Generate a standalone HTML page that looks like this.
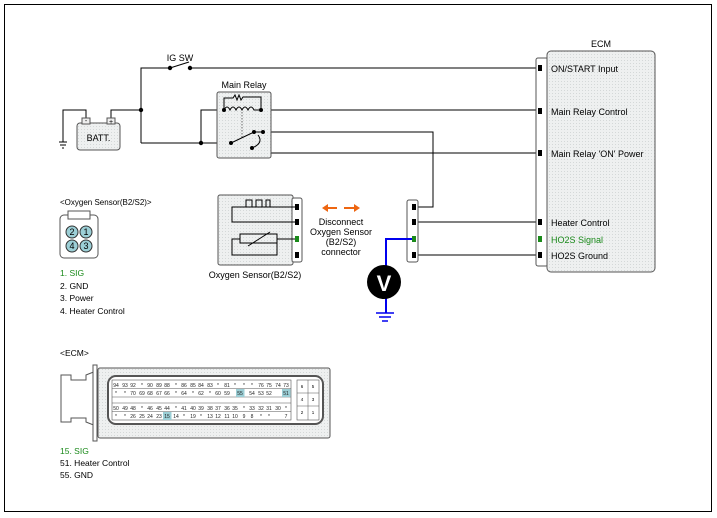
<!DOCTYPE html>
<html><head><meta charset="utf-8"><style>
html,body{margin:0;padding:0;background:#fff}
svg{display:block;font-family:"Liberation Sans",sans-serif}
</style></head><body>
<svg width="717" height="518" viewBox="0 0 717 518" xmlns="http://www.w3.org/2000/svg">
<defs>
<pattern id="dot" width="3" height="3" patternUnits="userSpaceOnUse"><rect width="3" height="3" fill="#eef0f0"/><rect width="1" height="1" fill="#d4d8d8"/></pattern>
</defs>
<rect x="4.5" y="4.5" width="707" height="507" fill="#fff" stroke="#000"/>
<g stroke="#000" fill="none" stroke-width="1">
<!-- top wire -->
<path d="M141 143V68H170M190 68H537"/>
<line x1="170" y1="68" x2="189" y2="62"/>
<!-- battery -->
<path d="M111 123V110H141M86 123V110H63V142"/>
<path d="M59 142h8M60 145h6M62 148h2"/>
<path d="M141 143H231M201 143V110H224"/>
<!-- relay lines -->
<path d="M261 110H537M263 132H433V207H414M267 132V153H537"/>
<path d="M414 222H537M414 255H537"/>
</g>
<circle cx="170" cy="68" r="2.2"/><circle cx="190" cy="68" r="2.2"/>
<circle cx="141" cy="110" r="2.2"/><circle cx="201" cy="143" r="2.2"/>
<text x="180" y="61" font-size="9" text-anchor="middle">IG SW</text>
<rect x="77" y="123" width="43" height="27" rx="3" fill="url(#dot)" stroke="#555"/>
<rect x="82" y="118" width="8" height="6" fill="#eee" stroke="#555"/><rect x="107" y="118" width="8" height="6" fill="#eee" stroke="#555"/>
<text x="86" y="123" font-size="7" text-anchor="middle">-</text><text x="111" y="124" font-size="7" text-anchor="middle">+</text>
<text x="98.5" y="141" font-size="9" text-anchor="middle">BATT.</text>
<!-- main relay -->
<text x="244" y="88" font-size="9" text-anchor="middle">Main Relay</text>
<rect x="217" y="92" width="54" height="66" rx="2" fill="url(#dot)" stroke="#555"/>
<g stroke="#000" fill="none">
<path d="M224 110V98H233l2-3 2 5 2-5 2 5 2-3H261V110"/>
<path d="M224 110q3-6 6 0q3-6 6 0q3-6 6 0q3-6 6 0q3-6 6 0h7"/>
<line x1="242" y1="112" x2="242" y2="138" stroke-dasharray="1.5,1.5" stroke="#666"/>
<path d="M231 143L254 132H263M258 135q6 8 -6 13"/>
</g>
<circle cx="224" cy="110" r="2"/><circle cx="261" cy="110" r="2"/><circle cx="231" cy="143" r="2"/><circle cx="254" cy="132" r="2"/><circle cx="263" cy="132" r="2"/><circle cx="252" cy="148" r="2"/>
<!-- ECM -->
<text x="601" y="47" font-size="9" text-anchor="middle">ECM</text>
<rect x="536" y="58" width="12" height="208" rx="2" fill="#fff" stroke="#555"/>
<rect x="547" y="51" width="108" height="221" rx="4" fill="url(#dot)" stroke="#555"/>
<g fill="#000"><rect x="538" y="65" width="4" height="6"/><rect x="538" y="108" width="4" height="6"/><rect x="538" y="150" width="4" height="6"/><rect x="538" y="219" width="4" height="6"/><rect x="538" y="252" width="4" height="6"/></g>
<rect x="538" y="236" width="4" height="6" fill="#1a8a1a"/>
<g font-size="9"><text x="551" y="72">ON/START Input</text><text x="551" y="115">Main Relay Control</text><text x="551" y="157">Main Relay 'ON' Power</text><text x="551" y="226">Heater Control</text><text x="551" y="243" fill="#1a8a1a">HO2S  Signal</text><text x="551" y="259">HO2S  Ground</text></g>
<!-- connector -->
<rect x="407" y="200" width="11" height="62" rx="2" fill="#fff" stroke="#555"/>
<g fill="#000"><rect x="412" y="204" width="4" height="6"/><rect x="412" y="219" width="4" height="6"/><rect x="412" y="252" width="4" height="6"/></g>
<path d="M414 239H386V313" stroke="#0000ee" stroke-width="2" fill="none"/>
<rect x="412" y="236" width="4" height="6" fill="#1a8a1a"/>
<circle cx="384" cy="282" r="17" fill="#000"/>
<text x="384" y="291" font-size="22" font-weight="bold" fill="#fff" text-anchor="middle">V</text>
<path d="M376 313h18M379 317h12M382 321h6" stroke="#0000ee" stroke-width="1.5"/>
<!-- sensor -->
<rect x="218" y="195" width="75" height="70" rx="2" fill="url(#dot)" stroke="#555"/>
<rect x="292" y="198" width="10" height="64" rx="2" fill="#fff" stroke="#555"/>
<g stroke="#000" fill="none">
<path d="M296 207H232V222H296M232 207"/>
<path d="M232 207H246V200H252V207H256V200H262V207H266V200H270V207"/>
<path d="M296 239H277V255H232V239H240"/>
<rect x="240" y="234" width="37" height="9"/>
<line x1="248" y1="246" x2="270" y2="232"/>
</g>
<g fill="#000"><rect x="295" y="204" width="4" height="6"/><rect x="295" y="219" width="4" height="6"/><rect x="295" y="252" width="4" height="6"/></g>
<rect x="295" y="236" width="4" height="6" fill="#1a8a1a"/>
<text x="255" y="278" font-size="9" text-anchor="middle">Oxygen Sensor(B2/S2)</text>
<g stroke="#ee6611" stroke-width="2" fill="#ee6611"><line x1="326" y1="208" x2="337" y2="208"/><line x1="344" y1="208" x2="356" y2="208"/></g>
<path d="M322 208l6-4v8z M360 208l-6-4v8z" fill="#ee6611"/>
<g font-size="9" text-anchor="middle"><text x="341" y="225">Disconnect</text><text x="341" y="235">Oxygen Sensor</text><text x="341" y="245">(B2/S2)</text><text x="341" y="255">connector</text></g>
<!-- O2 connector icon -->
<text x="60" y="205" font-size="8">&lt;Oxygen Sensor(B2/S2)&gt;</text>
<rect x="60" y="215" width="38" height="43" rx="4" fill="#fff" stroke="#555"/>
<rect x="68" y="211" width="22" height="8" fill="#fff" stroke="#555"/>
<g fill="#9ccfd6" stroke="#333"><circle cx="72" cy="232" r="6"/><circle cx="86" cy="232" r="6"/><circle cx="72" cy="246" r="6"/><circle cx="86" cy="246" r="6"/></g>
<g font-size="9" text-anchor="middle"><text x="72" y="235">2</text><text x="86" y="235">1</text><text x="72" y="249">4</text><text x="86" y="249">3</text></g>
<g font-size="8.5"><text x="60" y="276" fill="#1a8a1a">1. SIG</text><text x="60" y="289">2. GND</text><text x="60" y="301">3. Power</text><text x="60" y="314">4. Heater Control</text></g>
<!-- ECM connector -->
<text x="60" y="356" font-size="8.5">&lt;ECM&gt;</text>
<path d="M61 375h10v5h15v-5l10-4h3v55h-3l-10-4v-4h-15v4h-10z" fill="#fff" stroke="#555"/>
<rect x="93" y="365" width="4" height="76" fill="#fff" stroke="#555"/>
<rect x="98" y="368" width="232" height="70" rx="2" fill="url(#dot)" stroke="#555"/>
<rect x="108" y="376" width="215" height="48" rx="8" fill="#fff" stroke="#555" stroke-width="2"/>
<rect x="112" y="380" width="179" height="40" fill="#fff" stroke="#555" stroke-width="0.6"/>
<rect x="297" y="380" width="22" height="40" fill="#fff" stroke="#555" stroke-width="0.6"/>
<g stroke="#555" stroke-width="0.5"><line x1="112" y1="388.5" x2="291" y2="388.5"/><line x1="112" y1="397" x2="291" y2="397"/><line x1="112" y1="403" x2="291" y2="403"/><line x1="112" y1="411.5" x2="291" y2="411.5"/><line x1="297" y1="393" x2="319" y2="393"/><line x1="297" y1="406" x2="319" y2="406"/><line x1="308" y1="380" x2="308" y2="420"/></g>
<g font-size="4.5" text-anchor="middle">
<text x="302" y="388">6</text><text x="313" y="388">5</text><text x="302" y="401">4</text><text x="313" y="401">3</text><text x="302" y="414">2</text><text x="313" y="414">1</text>
</g>
<rect x="236" y="389" width="8.5" height="8" fill="#9ccfd6"/><rect x="282" y="389" width="8.5" height="8" fill="#9ccfd6"/><rect x="163" y="412" width="8.5" height="8" fill="#9ccfd6"/>
<g font-size="5" text-anchor="middle" fill="#222">
<text x="116" y="387">94</text><text x="125" y="387">93</text><text x="133" y="387">92</text><text x="142" y="387">*</text><text x="150" y="387">90</text><text x="159" y="387">89</text><text x="167" y="387">88</text><text x="176" y="387">*</text><text x="184" y="387">86</text><text x="193" y="387">85</text><text x="201" y="387">84</text><text x="210" y="387">83</text><text x="218" y="387">*</text><text x="227" y="387">81</text><text x="235" y="387">*</text><text x="244" y="387">*</text><text x="252" y="387">*</text><text x="261" y="387">76</text><text x="269" y="387">75</text><text x="278" y="387">74</text><text x="286" y="387">73</text>
<text x="116" y="395">*</text><text x="125" y="395">*</text><text x="133" y="395">70</text><text x="142" y="395">69</text><text x="150" y="395">68</text><text x="159" y="395">67</text><text x="167" y="395">66</text><text x="176" y="395">*</text><text x="184" y="395">64</text><text x="193" y="395">*</text><text x="201" y="395">62</text><text x="210" y="395">*</text><text x="218" y="395">60</text><text x="227" y="395">59</text><text x="240" y="395">55</text><text x="252" y="395">54</text><text x="261" y="395">53</text><text x="269" y="395">52</text><text x="286" y="395">51</text>
<text x="116" y="410">50</text><text x="125" y="410">49</text><text x="133" y="410">48</text><text x="142" y="410">*</text><text x="150" y="410">46</text><text x="159" y="410">45</text><text x="167" y="410">44</text><text x="176" y="410">*</text><text x="184" y="410">41</text><text x="193" y="410">40</text><text x="201" y="410">39</text><text x="210" y="410">38</text><text x="218" y="410">37</text><text x="227" y="410">36</text><text x="235" y="410">35</text><text x="244" y="410">*</text><text x="252" y="410">33</text><text x="261" y="410">32</text><text x="269" y="410">31</text><text x="278" y="410">30</text><text x="286" y="410">*</text>
<text x="116" y="418">*</text><text x="125" y="418">*</text><text x="133" y="418">26</text><text x="142" y="418">25</text><text x="150" y="418">24</text><text x="159" y="418">23</text><text x="167" y="418">15</text><text x="176" y="418">14</text><text x="184" y="418">*</text><text x="193" y="418">19</text><text x="201" y="418">*</text><text x="210" y="418">13</text><text x="218" y="418">12</text><text x="227" y="418">11</text><text x="235" y="418">10</text><text x="244" y="418">9</text><text x="252" y="418">8</text><text x="261" y="418">*</text><text x="269" y="418">*</text><text x="286" y="418">7</text>
</g>
<g font-size="8.5"><text x="60" y="454" fill="#1a8a1a">15. SIG</text><text x="60" y="466">51. Heater Control</text><text x="60" y="478">55. GND</text></g>
</svg>
</body></html>
